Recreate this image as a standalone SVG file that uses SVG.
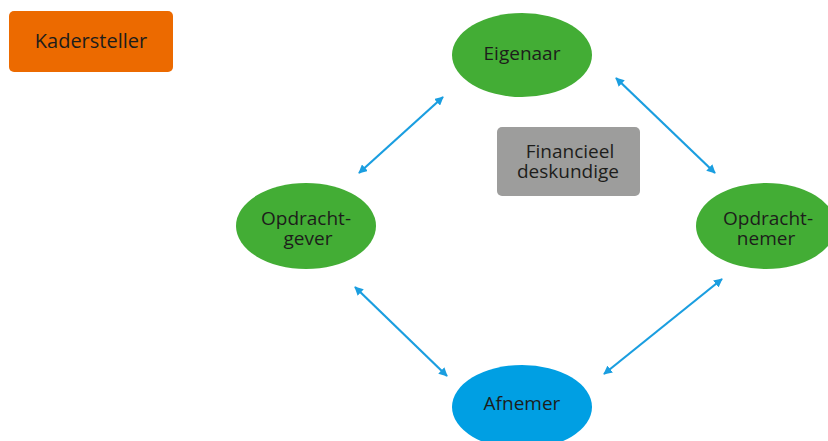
<svg xmlns="http://www.w3.org/2000/svg" width="828" height="441" viewBox="0 0 828 441">
<style>
text{font-family:"Open Sans","Noto Sans",sans-serif;font-size:19px;fill:#1d1d1b;text-anchor:middle}
.g{fill:#43ad35}
.c{stroke:#1a9ee0;stroke-width:2.2;fill:none;marker-start:url(#a);marker-end:url(#a)}
</style>
<defs>
<marker id="a" viewBox="0 0 10 10" refX="9" refY="5" markerWidth="4" markerHeight="4" orient="auto-start-reverse" markerUnits="strokeWidth">
<path d="M0,0L10,5L0,10z" fill="#1a9ee0"/>
</marker>
</defs>
<rect width="828" height="441" fill="#fff"/>
<g id="connectors">
<line class="c" x1="359" y1="173" x2="443" y2="97"/>
<line class="c" x1="616" y1="78" x2="715" y2="173"/>
<line class="c" x1="355" y1="287" x2="447" y2="376"/>
<line class="c" x1="604" y1="374" x2="722" y2="279"/>
</g>
<g id="kadersteller">
<rect x="9" y="11" width="164" height="61" rx="5" fill="#ec6a00"/>
<text x="91" y="48" style="font-size:20px">Kadersteller</text>
</g>
<g id="eigenaar">
<ellipse cx="522" cy="55" rx="70" ry="42" class="g"/>
<text x="522" y="60">Eigenaar</text>
</g>
<g id="financieel">
<rect x="497" y="127" width="143" height="69" rx="5" fill="#9d9d9c"/>
<text x="570" y="158">Financieel</text>
<text x="568" y="178">deskundige</text>
</g>
<g id="opdrachtgever">
<ellipse cx="306" cy="226" rx="70" ry="43" class="g"/>
<text x="306" y="225">Opdracht-</text>
<text x="308" y="245">gever</text>
</g>
<g id="opdrachtnemer">
<ellipse cx="766" cy="226" rx="70" ry="43" class="g"/>
<text x="768" y="225">Opdracht-</text>
<text x="766" y="245">nemer</text>
</g>
<g id="afnemer">
<ellipse cx="522" cy="407" rx="70" ry="42" fill="#009fe3"/>
<text x="522" y="410">Afnemer</text>
</g>
</svg>
